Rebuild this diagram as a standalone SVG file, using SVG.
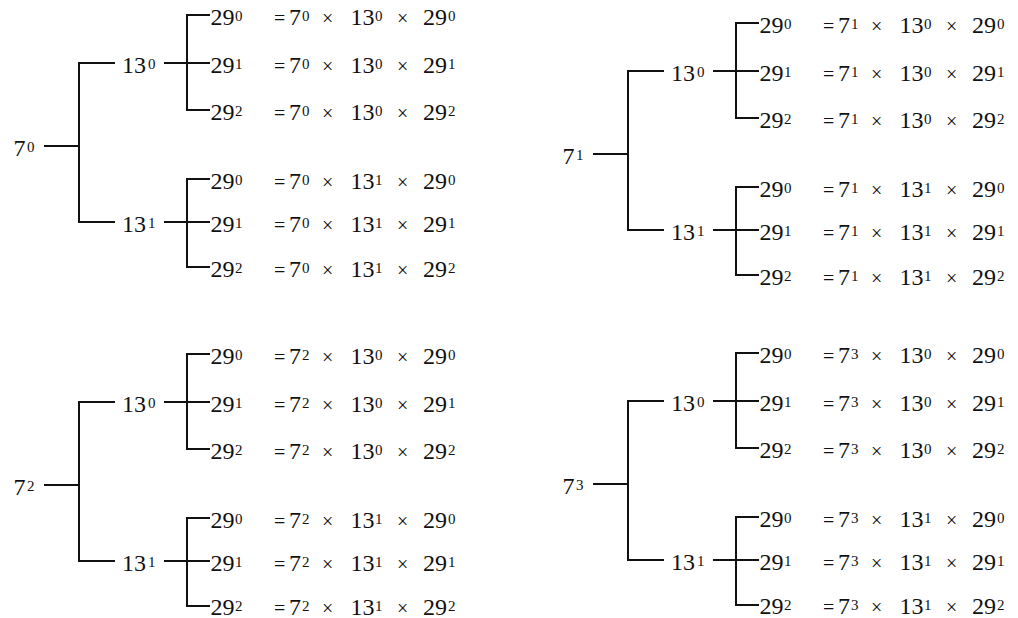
<svg xmlns="http://www.w3.org/2000/svg" width="1018" height="618" viewBox="0 0 1018 618">
<style>
.t{font-family:"Liberation Serif","Times New Roman",serif;font-size:24px;fill:#111}
.s{font-size:15px}
.o{font-size:20px}
.c{fill:none;stroke:#111;stroke-width:2}
</style>
<rect width="1018" height="618" fill="#fff"/>
<defs>
<g id="conn">
<path class="c" d="M44,146H79M115,63H79V222H115M164,63H210M210,15H187V110H210M164,222H210M210,179H187V267H210"/>
</g>
</defs>

<!-- Tree 7^0 -->
<g id="tree-a">
<g id="a-connectors"><use href="#conn"/></g>
<g id="a-root"><text class="t" x="13.5" y="156">7<tspan class="s" x="27" y="152">0</tspan></text></g>
<g id="a-n0"><text class="t" x="122" y="73">13<tspan class="s" x="148" y="69">0</tspan></text></g>
<g id="a-n1"><text class="t" x="122" y="232">13<tspan class="s" x="148" y="228">1</tspan></text></g>
<g id="a-l00"><text class="t" x="210.5" y="25">29<tspan class="s" x="235" y="21">0</tspan></text><text class="t" y="25"><tspan class="o" x="274">=</tspan><tspan x="289">7</tspan><tspan class="s" x="302" y="21">0</tspan><tspan class="o" x="322" y="25">×</tspan><tspan x="350.5">13</tspan><tspan class="s" x="375" y="21">0</tspan><tspan class="o" x="397" y="25">×</tspan><tspan x="423">29</tspan><tspan class="s" x="448" y="21">0</tspan></text></g>
<g id="a-l01"><text class="t" x="210.5" y="73">29<tspan class="s" x="235" y="69">1</tspan></text><text class="t" y="73"><tspan class="o" x="274">=</tspan><tspan x="289">7</tspan><tspan class="s" x="302" y="69">0</tspan><tspan class="o" x="322" y="73">×</tspan><tspan x="350.5">13</tspan><tspan class="s" x="375" y="69">0</tspan><tspan class="o" x="397" y="73">×</tspan><tspan x="423">29</tspan><tspan class="s" x="448" y="69">1</tspan></text></g>
<g id="a-l02"><text class="t" x="210.5" y="120">29<tspan class="s" x="235" y="116">2</tspan></text><text class="t" y="120"><tspan class="o" x="274">=</tspan><tspan x="289">7</tspan><tspan class="s" x="302" y="116">0</tspan><tspan class="o" x="322" y="120">×</tspan><tspan x="350.5">13</tspan><tspan class="s" x="375" y="116">0</tspan><tspan class="o" x="397" y="120">×</tspan><tspan x="423">29</tspan><tspan class="s" x="448" y="116">2</tspan></text></g>
<g id="a-l10"><text class="t" x="210.5" y="189">29<tspan class="s" x="235" y="185">0</tspan></text><text class="t" y="189"><tspan class="o" x="274">=</tspan><tspan x="289">7</tspan><tspan class="s" x="302" y="185">0</tspan><tspan class="o" x="322" y="189">×</tspan><tspan x="350.5">13</tspan><tspan class="s" x="375" y="185">1</tspan><tspan class="o" x="397" y="189">×</tspan><tspan x="423">29</tspan><tspan class="s" x="448" y="185">0</tspan></text></g>
<g id="a-l11"><text class="t" x="210.5" y="232">29<tspan class="s" x="235" y="228">1</tspan></text><text class="t" y="232"><tspan class="o" x="274">=</tspan><tspan x="289">7</tspan><tspan class="s" x="302" y="228">0</tspan><tspan class="o" x="322" y="232">×</tspan><tspan x="350.5">13</tspan><tspan class="s" x="375" y="228">1</tspan><tspan class="o" x="397" y="232">×</tspan><tspan x="423">29</tspan><tspan class="s" x="448" y="228">1</tspan></text></g>
<g id="a-l12"><text class="t" x="210.5" y="277">29<tspan class="s" x="235" y="273">2</tspan></text><text class="t" y="277"><tspan class="o" x="274">=</tspan><tspan x="289">7</tspan><tspan class="s" x="302" y="273">0</tspan><tspan class="o" x="322" y="277">×</tspan><tspan x="350.5">13</tspan><tspan class="s" x="375" y="273">1</tspan><tspan class="o" x="397" y="277">×</tspan><tspan x="423">29</tspan><tspan class="s" x="448" y="273">2</tspan></text></g>
</g>

<!-- Tree 7^1 -->
<g id="tree-b" transform="translate(549,8)">
<g id="b-connectors"><use href="#conn"/></g>
<g id="b-root"><text class="t" x="13.5" y="156">7<tspan class="s" x="27" y="152">1</tspan></text></g>
<g id="b-n0"><text class="t" x="122" y="73">13<tspan class="s" x="148" y="69">0</tspan></text></g>
<g id="b-n1"><text class="t" x="122" y="232">13<tspan class="s" x="148" y="228">1</tspan></text></g>
<g id="b-l00"><text class="t" x="210.5" y="25">29<tspan class="s" x="235" y="21">0</tspan></text><text class="t" y="25"><tspan class="o" x="274">=</tspan><tspan x="289">7</tspan><tspan class="s" x="302" y="21">1</tspan><tspan class="o" x="322" y="25">×</tspan><tspan x="350.5">13</tspan><tspan class="s" x="375" y="21">0</tspan><tspan class="o" x="397" y="25">×</tspan><tspan x="423">29</tspan><tspan class="s" x="448" y="21">0</tspan></text></g>
<g id="b-l01"><text class="t" x="210.5" y="73">29<tspan class="s" x="235" y="69">1</tspan></text><text class="t" y="73"><tspan class="o" x="274">=</tspan><tspan x="289">7</tspan><tspan class="s" x="302" y="69">1</tspan><tspan class="o" x="322" y="73">×</tspan><tspan x="350.5">13</tspan><tspan class="s" x="375" y="69">0</tspan><tspan class="o" x="397" y="73">×</tspan><tspan x="423">29</tspan><tspan class="s" x="448" y="69">1</tspan></text></g>
<g id="b-l02"><text class="t" x="210.5" y="120">29<tspan class="s" x="235" y="116">2</tspan></text><text class="t" y="120"><tspan class="o" x="274">=</tspan><tspan x="289">7</tspan><tspan class="s" x="302" y="116">1</tspan><tspan class="o" x="322" y="120">×</tspan><tspan x="350.5">13</tspan><tspan class="s" x="375" y="116">0</tspan><tspan class="o" x="397" y="120">×</tspan><tspan x="423">29</tspan><tspan class="s" x="448" y="116">2</tspan></text></g>
<g id="b-l10"><text class="t" x="210.5" y="189">29<tspan class="s" x="235" y="185">0</tspan></text><text class="t" y="189"><tspan class="o" x="274">=</tspan><tspan x="289">7</tspan><tspan class="s" x="302" y="185">1</tspan><tspan class="o" x="322" y="189">×</tspan><tspan x="350.5">13</tspan><tspan class="s" x="375" y="185">1</tspan><tspan class="o" x="397" y="189">×</tspan><tspan x="423">29</tspan><tspan class="s" x="448" y="185">0</tspan></text></g>
<g id="b-l11"><text class="t" x="210.5" y="232">29<tspan class="s" x="235" y="228">1</tspan></text><text class="t" y="232"><tspan class="o" x="274">=</tspan><tspan x="289">7</tspan><tspan class="s" x="302" y="228">1</tspan><tspan class="o" x="322" y="232">×</tspan><tspan x="350.5">13</tspan><tspan class="s" x="375" y="228">1</tspan><tspan class="o" x="397" y="232">×</tspan><tspan x="423">29</tspan><tspan class="s" x="448" y="228">1</tspan></text></g>
<g id="b-l12"><text class="t" x="210.5" y="277">29<tspan class="s" x="235" y="273">2</tspan></text><text class="t" y="277"><tspan class="o" x="274">=</tspan><tspan x="289">7</tspan><tspan class="s" x="302" y="273">1</tspan><tspan class="o" x="322" y="277">×</tspan><tspan x="350.5">13</tspan><tspan class="s" x="375" y="273">1</tspan><tspan class="o" x="397" y="277">×</tspan><tspan x="423">29</tspan><tspan class="s" x="448" y="273">2</tspan></text></g>
</g>

<!-- Tree 7^2 -->
<g id="tree-c" transform="translate(0,339)">
<g id="c-connectors"><use href="#conn"/></g>
<g id="c-root"><text class="t" x="13.5" y="156">7<tspan class="s" x="27" y="152">2</tspan></text></g>
<g id="c-n0"><text class="t" x="122" y="73">13<tspan class="s" x="148" y="69">0</tspan></text></g>
<g id="c-n1"><text class="t" x="122" y="232">13<tspan class="s" x="148" y="228">1</tspan></text></g>
<g id="c-l00"><text class="t" x="210.5" y="25">29<tspan class="s" x="235" y="21">0</tspan></text><text class="t" y="25"><tspan class="o" x="274">=</tspan><tspan x="289">7</tspan><tspan class="s" x="302" y="21">2</tspan><tspan class="o" x="322" y="25">×</tspan><tspan x="350.5">13</tspan><tspan class="s" x="375" y="21">0</tspan><tspan class="o" x="397" y="25">×</tspan><tspan x="423">29</tspan><tspan class="s" x="448" y="21">0</tspan></text></g>
<g id="c-l01"><text class="t" x="210.5" y="73">29<tspan class="s" x="235" y="69">1</tspan></text><text class="t" y="73"><tspan class="o" x="274">=</tspan><tspan x="289">7</tspan><tspan class="s" x="302" y="69">2</tspan><tspan class="o" x="322" y="73">×</tspan><tspan x="350.5">13</tspan><tspan class="s" x="375" y="69">0</tspan><tspan class="o" x="397" y="73">×</tspan><tspan x="423">29</tspan><tspan class="s" x="448" y="69">1</tspan></text></g>
<g id="c-l02"><text class="t" x="210.5" y="120">29<tspan class="s" x="235" y="116">2</tspan></text><text class="t" y="120"><tspan class="o" x="274">=</tspan><tspan x="289">7</tspan><tspan class="s" x="302" y="116">2</tspan><tspan class="o" x="322" y="120">×</tspan><tspan x="350.5">13</tspan><tspan class="s" x="375" y="116">0</tspan><tspan class="o" x="397" y="120">×</tspan><tspan x="423">29</tspan><tspan class="s" x="448" y="116">2</tspan></text></g>
<g id="c-l10"><text class="t" x="210.5" y="189">29<tspan class="s" x="235" y="185">0</tspan></text><text class="t" y="189"><tspan class="o" x="274">=</tspan><tspan x="289">7</tspan><tspan class="s" x="302" y="185">2</tspan><tspan class="o" x="322" y="189">×</tspan><tspan x="350.5">13</tspan><tspan class="s" x="375" y="185">1</tspan><tspan class="o" x="397" y="189">×</tspan><tspan x="423">29</tspan><tspan class="s" x="448" y="185">0</tspan></text></g>
<g id="c-l11"><text class="t" x="210.5" y="232">29<tspan class="s" x="235" y="228">1</tspan></text><text class="t" y="232"><tspan class="o" x="274">=</tspan><tspan x="289">7</tspan><tspan class="s" x="302" y="228">2</tspan><tspan class="o" x="322" y="232">×</tspan><tspan x="350.5">13</tspan><tspan class="s" x="375" y="228">1</tspan><tspan class="o" x="397" y="232">×</tspan><tspan x="423">29</tspan><tspan class="s" x="448" y="228">1</tspan></text></g>
<g id="c-l12"><text class="t" x="210.5" y="276">29<tspan class="s" x="235" y="272">2</tspan></text><text class="t" y="276"><tspan class="o" x="274">=</tspan><tspan x="289">7</tspan><tspan class="s" x="302" y="272">2</tspan><tspan class="o" x="322" y="276">×</tspan><tspan x="350.5">13</tspan><tspan class="s" x="375" y="272">1</tspan><tspan class="o" x="397" y="276">×</tspan><tspan x="423">29</tspan><tspan class="s" x="448" y="272">2</tspan></text></g>
</g>

<!-- Tree 7^3 -->
<g id="tree-d" transform="translate(549,338)">
<g id="d-connectors"><use href="#conn"/></g>
<g id="d-root"><text class="t" x="13.5" y="156">7<tspan class="s" x="27" y="152">3</tspan></text></g>
<g id="d-n0"><text class="t" x="122" y="73">13<tspan class="s" x="148" y="69">0</tspan></text></g>
<g id="d-n1"><text class="t" x="122" y="232">13<tspan class="s" x="148" y="228">1</tspan></text></g>
<g id="d-l00"><text class="t" x="210.5" y="25">29<tspan class="s" x="235" y="21">0</tspan></text><text class="t" y="25"><tspan class="o" x="274">=</tspan><tspan x="289">7</tspan><tspan class="s" x="302" y="21">3</tspan><tspan class="o" x="322" y="25">×</tspan><tspan x="350.5">13</tspan><tspan class="s" x="375" y="21">0</tspan><tspan class="o" x="397" y="25">×</tspan><tspan x="423">29</tspan><tspan class="s" x="448" y="21">0</tspan></text></g>
<g id="d-l01"><text class="t" x="210.5" y="73">29<tspan class="s" x="235" y="69">1</tspan></text><text class="t" y="73"><tspan class="o" x="274">=</tspan><tspan x="289">7</tspan><tspan class="s" x="302" y="69">3</tspan><tspan class="o" x="322" y="73">×</tspan><tspan x="350.5">13</tspan><tspan class="s" x="375" y="69">0</tspan><tspan class="o" x="397" y="73">×</tspan><tspan x="423">29</tspan><tspan class="s" x="448" y="69">1</tspan></text></g>
<g id="d-l02"><text class="t" x="210.5" y="120">29<tspan class="s" x="235" y="116">2</tspan></text><text class="t" y="120"><tspan class="o" x="274">=</tspan><tspan x="289">7</tspan><tspan class="s" x="302" y="116">3</tspan><tspan class="o" x="322" y="120">×</tspan><tspan x="350.5">13</tspan><tspan class="s" x="375" y="116">0</tspan><tspan class="o" x="397" y="120">×</tspan><tspan x="423">29</tspan><tspan class="s" x="448" y="116">2</tspan></text></g>
<g id="d-l10"><text class="t" x="210.5" y="189">29<tspan class="s" x="235" y="185">0</tspan></text><text class="t" y="189"><tspan class="o" x="274">=</tspan><tspan x="289">7</tspan><tspan class="s" x="302" y="185">3</tspan><tspan class="o" x="322" y="189">×</tspan><tspan x="350.5">13</tspan><tspan class="s" x="375" y="185">1</tspan><tspan class="o" x="397" y="189">×</tspan><tspan x="423">29</tspan><tspan class="s" x="448" y="185">0</tspan></text></g>
<g id="d-l11"><text class="t" x="210.5" y="232">29<tspan class="s" x="235" y="228">1</tspan></text><text class="t" y="232"><tspan class="o" x="274">=</tspan><tspan x="289">7</tspan><tspan class="s" x="302" y="228">3</tspan><tspan class="o" x="322" y="232">×</tspan><tspan x="350.5">13</tspan><tspan class="s" x="375" y="228">1</tspan><tspan class="o" x="397" y="232">×</tspan><tspan x="423">29</tspan><tspan class="s" x="448" y="228">1</tspan></text></g>
<g id="d-l12"><text class="t" x="210.5" y="276">29<tspan class="s" x="235" y="272">2</tspan></text><text class="t" y="276"><tspan class="o" x="274">=</tspan><tspan x="289">7</tspan><tspan class="s" x="302" y="272">3</tspan><tspan class="o" x="322" y="276">×</tspan><tspan x="350.5">13</tspan><tspan class="s" x="375" y="272">1</tspan><tspan class="o" x="397" y="276">×</tspan><tspan x="423">29</tspan><tspan class="s" x="448" y="272">2</tspan></text></g>
</g>
</svg>
